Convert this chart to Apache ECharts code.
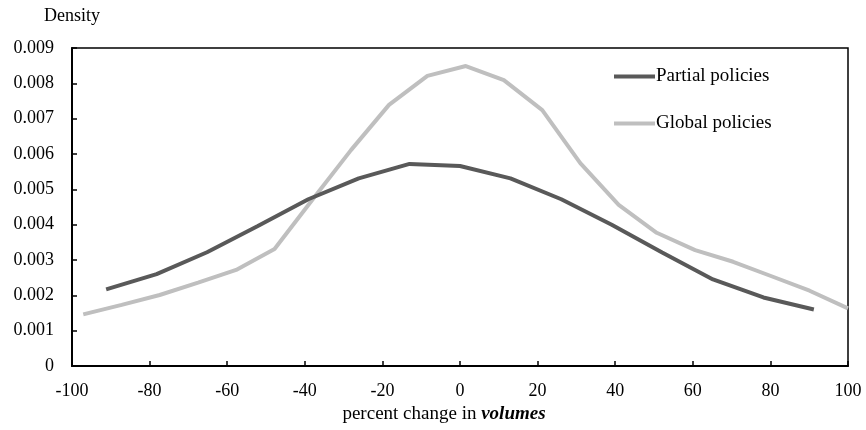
<!DOCTYPE html>
<html>
<head>
<meta charset="utf-8">
<script src="https://cdn.jsdelivr.net/npm/echarts@6/dist/echarts.min.js"></script>
<style>
html,body{margin:0;padding:0;background:#fff;}
#chart{width:866px;height:430px;}
</style>
</head>
<body>
<div id="chart"></div>
<script>
// Data
var partialX = [-91.2, -78.2, -65.2, -52.1, -39.1, -26.1, -13.0, 0.0, 13.0, 26.1, 39.1, 52.1, 65.2, 78.2, 91.2];
var partialY = [0.00217, 0.00260, 0.00322, 0.00396, 0.00472, 0.00531, 0.00572, 0.00566, 0.00531, 0.00472, 0.00400, 0.00321, 0.00245, 0.00194, 0.00160];
var globalX = [-97.1, -87.2, -77.4, -67.5, -57.7, -47.8, -38.0, -28.1, -18.3, -8.4, 1.5, 11.3, 21.2, 31.0, 40.9, 50.7, 60.6, 70.4, 80.3, 90.1, 100.0];
var globalY = [0.00146, 0.00173, 0.00201, 0.00236, 0.00272, 0.00331, 0.00471, 0.00611, 0.00739, 0.00821, 0.00849, 0.00809, 0.00724, 0.00574, 0.00456, 0.00377, 0.00328, 0.00295, 0.00254, 0.00213, 0.00163];
var seriesNames = ['Partial policies', 'Global policies'];
var xTicks = {min: -100, max: 100, interval: 20};
var yTicks = {min: 0, max: 0.009, interval: 0.001};

function pairs(xs, ys) {
  return xs.map(function (x, i) { return [x, ys[i]]; });
}

var FONT = '"Liberation Serif", "Times New Roman", serif';
var chart = echarts.init(document.getElementById('chart'));
chart.setOption({
  backgroundColor: '#ffffff',
  animation: false,
  textStyle: {fontFamily: FONT, color: '#000'},
  grid: {left: 72, right: 18, top: 48, bottom: 64, show: true, borderColor: '#000', borderWidth: 1.5, backgroundColor: 'transparent'},
  title: {
    text: 'Density', left: 39, top: 2,
    textStyle: {fontFamily: FONT, fontSize: 18, fontWeight: 'normal', color: '#000'}
  },
  legend: {
    orient: 'vertical', left: 614, top: 67, itemGap: 28, padding: 0,
    icon: 'rect', itemWidth: 41, itemHeight: 4,
    textStyle: {fontFamily: FONT, fontSize: 19, color: '#000', padding: [0, 0, 0, -4]},
    data: seriesNames
  },
  xAxis: {
    type: 'value', min: xTicks.min, max: xTicks.max, interval: xTicks.interval,
    name: '{n|percent change in }{b|volumes}', nameLocation: 'middle', nameGap: 30,
    nameTextStyle: {
      padding: [0, 32, 0, 0],
      rich: {
        n: {fontFamily: FONT, fontSize: 19, color: '#000'},
        b: {fontFamily: FONT, fontSize: 19, color: '#000', fontWeight: 'bold', fontStyle: 'italic'}
      }
    },
    axisLine: {onZero: false, lineStyle: {color: '#000', width: 2}},
    axisTick: {inside: true, length: 5, lineStyle: {color: '#000', width: 1.5}},
    axisLabel: {fontFamily: FONT, fontSize: 18, color: '#000', margin: 16},
    splitLine: {show: false}
  },
  yAxis: {
    type: 'value', min: yTicks.min, max: yTicks.max, interval: yTicks.interval,
    axisLine: {show: true, onZero: false, lineStyle: {color: '#000', width: 2}},
    axisTick: {show: true, inside: true, length: 5, lineStyle: {color: '#000', width: 1.5}},
    axisLabel: {
      fontFamily: FONT, fontSize: 18, color: '#000', margin: 18,
      formatter: function (v) { return v === 0 ? '0' : v.toFixed(3); }
    },
    splitLine: {show: false}
  },
  series: [
    {
      name: seriesNames[0], type: 'line', symbol: 'none', z: 3,
      data: pairs(partialX, partialY),
      itemStyle: {color: '#595959'},
      lineStyle: {color: '#595959', width: 4}
    },
    {
      name: seriesNames[1], type: 'line', symbol: 'none', z: 2,
      data: pairs(globalX, globalY),
      itemStyle: {color: '#BFBFBF'},
      lineStyle: {color: '#BFBFBF', width: 4}
    }
  ]
});
</script>
</body>
</html>
